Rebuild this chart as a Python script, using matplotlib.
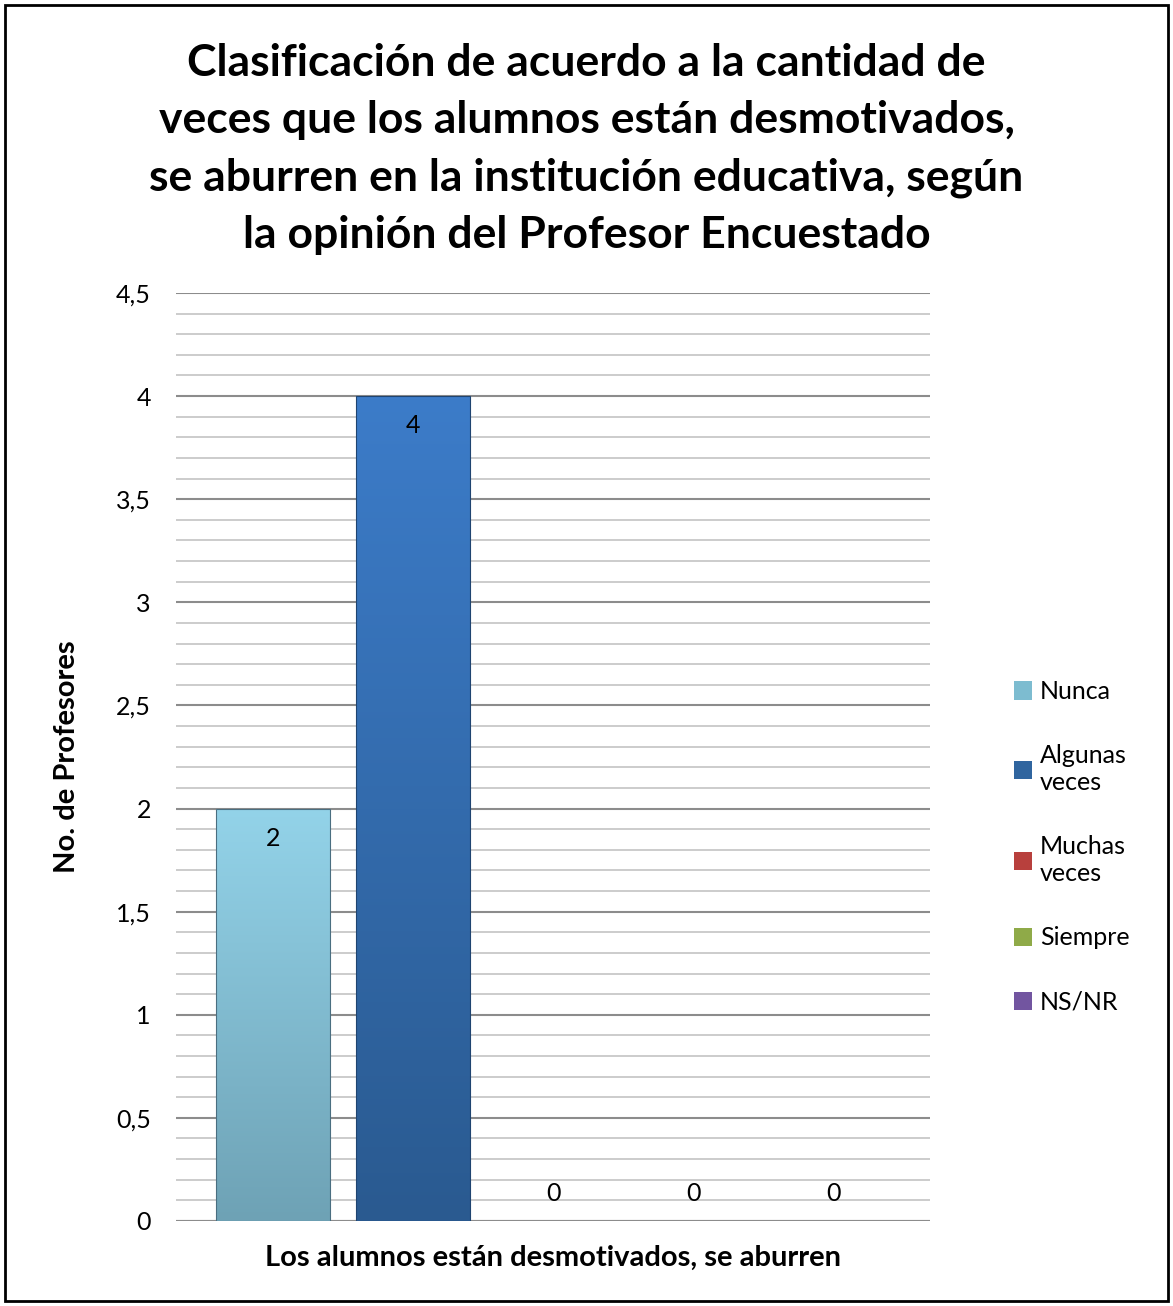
import numpy as np
import matplotlib.pyplot as plt
from matplotlib.colors import LinearSegmentedColormap
from matplotlib.patches import Rectangle, Patch
from matplotlib.ticker import MultipleLocator, FuncFormatter

titulo = ("Clasificación de acuerdo a la cantidad de\n"
          "veces que los alumnos están desmotivados,\n"
          "se aburren en la institución educativa, según\n"
          "la opinión del Profesor Encuestado")
categoria = "Los alumnos están desmotivados, se aburren"
series = ["Nunca", "Algunas veces", "Muchas veces", "Siempre", "NS/NR"]
leyenda = ["Nunca", "Algunas\nveces", "Muchas\nveces", "Siempre", "NS/NR"]
valores = [2, 4, 0, 0, 0]

# colores degradados (arriba, abajo)
col_arriba = ['#93d3e9', '#3c7cc9', '#d0504d', '#a7c860', '#8a6cb0']
col_abajo = ['#6ea2b5', '#2a5a90', '#9a3835', '#769038', '#5e4680']
col_leyenda = ['#7dbcd0', '#30659f', '#b8403d', '#8faa48', '#7255a0']

plt.rcParams['font.family'] = ['Lato', 'DejaVu Sans']

fig = plt.figure(figsize=(11.73, 13.06), dpi=100)
ax = fig.add_axes([0.150, 0.0651, 0.643, 0.7106])

x = np.arange(len(series)) - 2
ancho = 0.814
barras = ax.bar(x, valores, ancho, color=col_leyenda, edgecolor='none', zorder=3)

for i, b in enumerate(barras):
    h = b.get_height()
    if h <= 0:
        continue
    cmap = LinearSegmentedColormap.from_list('g%d' % i, [col_abajo[i], col_arriba[i]])
    grad = np.linspace(0, 1, 256).reshape(-1, 1)
    im = ax.imshow(grad, extent=[b.get_x(), b.get_x() + b.get_width(), 0, h],
                   origin='lower', aspect='auto', cmap=cmap, zorder=4)
    im.set_clip_path(b)
    # borde suave
    ax.add_patch(Rectangle((b.get_x(), 0), b.get_width(), h, fill=False,
                           edgecolor='#4a6e80' if i == 0 else '#1f4470',
                           linewidth=0.8, zorder=5))

for xi, v in zip(x, valores):
    if v > 0:
        ax.text(xi, v - 0.145, str(v), ha='center', va='center', fontsize=18, zorder=6)
    else:
        ax.text(xi, 0.135, str(v), ha='center', va='center', fontsize=18, zorder=6)

ax.set_xlim(-2.693, 2.693)
ax.set_ylim(0, 4.5)
ax.yaxis.set_major_locator(MultipleLocator(0.5))
ax.yaxis.set_minor_locator(MultipleLocator(0.1))
ax.yaxis.set_major_formatter(FuncFormatter(lambda v, p: ('%g' % v).replace('.', ',')))
ax.grid(which='major', axis='y', color='#8c8c8c', linewidth=1.5, zorder=0)
ax.grid(which='minor', axis='y', color='#c4c4c4', linewidth=1.2, zorder=0)
ax.tick_params(axis='y', which='both', length=0, labelsize=18, pad=18)
ax.tick_params(axis='x', which='both', length=0)
ax.set_xticks([])
for s in ax.spines.values():
    s.set_visible(False)
ax.axhline(0, color='#8c8c8c', linewidth=1.5, zorder=2)

ax.set_xlabel(categoria, fontsize=21, fontweight='bold', labelpad=17)
ax.set_ylabel("No. de Profesores", fontsize=21, fontweight='bold', labelpad=26)

fig.text(0.5, 0.967, titulo, ha='center', va='top', fontsize=32,
         fontweight='bold', linespacing=1.52)

handles = [Patch(facecolor=c, edgecolor='none') for c in col_leyenda]
fig.legend(handles, leyenda, loc='center left', bbox_to_anchor=(0.845, 0.3515),
           frameon=False, fontsize=18, handlelength=0.75, handleheight=0.75,
           handletextpad=0.3, labelspacing=1.65)

fig.add_artist(Rectangle((0.004, 0.004), 0.992, 0.992, transform=fig.transFigure,
                         fill=False, edgecolor='black', linewidth=2))

fig.savefig('out.png', dpi=100)
